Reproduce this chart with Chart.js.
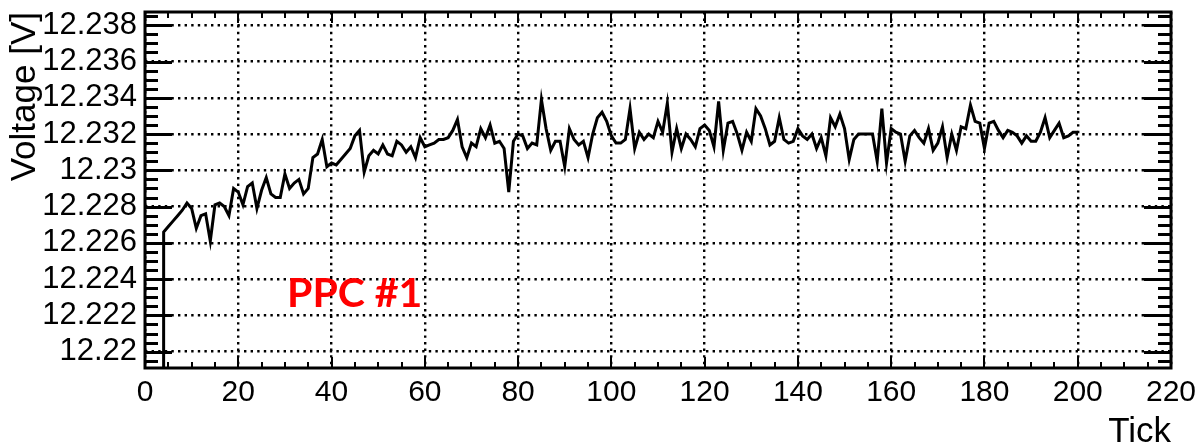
<!DOCTYPE html>
<html>
<head>
<meta charset="utf-8">
<script src="https://cdn.jsdelivr.net/npm/chart.js@4.4.0/dist/chart.umd.min.js"></script>
<style>
  html, body { margin: 0; padding: 0; background: #fff; }
  canvas { display: block; }
</style>
</head>
<body>
<canvas id="chart" width="1204" height="448"></canvas>
<script>
// first sample is at tick 3 (reads 0 V, far below the axis), one sample per tick after that
const firstTick = 3;
const voltage = [
  0,       12.2266, 12.2269, 12.2272, 12.2275, 12.2278, 12.2282, 12.2279, 12.2268, 12.2275, // 3-12
  12.2276, 12.2261, 12.2281, 12.2282, 12.2280, 12.2275, 12.2290, 12.2288, 12.2281, 12.2291, // 13-22
  12.2293, 12.2279, 12.2289, 12.2296, 12.2287, 12.2285, 12.2285, 12.2298, 12.2290, 12.2293, // 23-32
  12.2295, 12.2287, 12.2290, 12.2307, 12.2309, 12.2317, 12.2302, 12.2304, 12.2303, 12.2306, // 33-42
  12.2309, 12.2312, 12.2319, 12.2322, 12.2299, 12.2308, 12.2311, 12.2309, 12.2314, 12.2309, // 43-52
  12.2308, 12.2316, 12.2314, 12.2310, 12.2313, 12.2307, 12.2318, 12.2313, 12.2314, 12.2315, // 53-62
  12.2317, 12.2317, 12.2318, 12.2322, 12.2328, 12.2313, 12.2307, 12.2315, 12.2313, 12.2323, // 63-72
  12.2318, 12.2325, 12.2315, 12.2316, 12.2312, 12.2288, 12.2316, 12.2320, 12.2319, 12.2312, // 73-82
  12.2315, 12.2314, 12.2339, 12.2323, 12.2311, 12.2316, 12.2316, 12.2302, 12.2323, 12.2317, // 83-92
  12.2314, 12.2316, 12.2307, 12.2320, 12.2329, 12.2332, 12.2327, 12.2319, 12.2315, 12.2315, // 93-102
  12.2317, 12.2334, 12.2312, 12.2321, 12.2317, 12.2320, 12.2318, 12.2327, 12.2321, 12.2337, // 103-112
  12.2310, 12.2323, 12.2312, 12.2320, 12.2317, 12.2313, 12.2323, 12.2325, 12.2322, 12.2313, // 113-122
  12.2338, 12.2311, 12.2326, 12.2327, 12.2320, 12.2311, 12.2321, 12.2316, 12.2334, 12.2330, // 123-132
  12.2323, 12.2314, 12.2316, 12.2329, 12.2317, 12.2315, 12.2316, 12.2323, 12.2319, 12.2317, // 133-142
  12.2320, 12.2312, 12.2318, 12.2308, 12.2329, 12.2324, 12.2331, 12.2323, 12.2306, 12.2317, // 143-152
  12.2320, 12.2320, 12.2320, 12.2320, 12.2305, 12.2334, 12.2304, 12.2323, 12.2321, 12.2320, // 153-162
  12.2305, 12.2319, 12.2322, 12.2318, 12.2315, 12.2323, 12.2311, 12.2315, 12.2324, 12.2307, // 163-172
  12.2320, 12.2311, 12.2324, 12.2323, 12.2336, 12.2327, 12.2326, 12.2312, 12.2326, 12.2327, // 173-182
  12.2322, 12.2318, 12.2322, 12.2321, 12.2319, 12.2315, 12.2319, 12.2316, 12.2316, 12.2321, // 183-192
  12.2329, 12.2318, 12.2322, 12.2326, 12.2318, 12.2319, 12.2321, 12.2321                    // 193-200
];

const xTickValues = [0, 20, 40, 60, 80, 100, 120, 140, 160, 180, 200, 220];
const xTickLabels = ['0', '20', '40', '60', '80', '100', '120', '140', '160', '180', '200', '220'];
const yTickValues = [12.220, 12.222, 12.224, 12.226, 12.228, 12.230, 12.232, 12.234, 12.236, 12.238];
const yTickLabels = ['12.22', '12.222', '12.224', '12.226', '12.228', '12.23', '12.232', '12.234', '12.236', '12.238'];
const xTitle = 'Tick';
const yTitle = 'Voltage [V]';
const tagText = 'PPC #1';

const points = voltage.map((v, i) => ({x: firstTick + i, y: v}));

// ROOT style frame with inward ticks on all four sides + the red tag
const rootFrame = {
  id: 'rootFrame',
  afterDatasetsDraw(chart) {
    const {ctx, chartArea: a, scales} = chart;
    const x = scales.x, y = scales.y;
    ctx.save();
    ctx.strokeStyle = '#000';
    ctx.lineCap = 'butt';

    // y ticks: minor every 0.0005, major every 0.002
    ctx.lineWidth = 3;
    const k0 = Math.ceil(y.min / 0.0005 - 1e-6), k1 = Math.floor(y.max / 0.0005 + 1e-6);
    for (let k = k0; k <= k1; k++) {
      const py = Math.round(y.getPixelForValue(k * 0.0005)) + 0.5;
      const len = (k % 4 === 0) ? 27 : 13;
      ctx.beginPath();
      ctx.moveTo(a.left, py); ctx.lineTo(a.left + len, py);
      ctx.moveTo(a.right, py); ctx.lineTo(a.right - len, py);
      ctx.stroke();
    }

    // x ticks: minor every 5, major every 20
    ctx.lineWidth = 2;
    for (let k = 0; k * 5 <= x.max; k++) {
      const px = Math.round(x.getPixelForValue(k * 5));
      const len = (k % 4 === 0) ? 11 : 6;
      ctx.beginPath();
      ctx.moveTo(px, a.bottom); ctx.lineTo(px, a.bottom - len);
      ctx.moveTo(px, a.top); ctx.lineTo(px, a.top + len);
      ctx.stroke();
    }

    ctx.lineWidth = 3;
    ctx.strokeRect(a.left, a.top, a.right - a.left, a.bottom - a.top);

    ctx.fillStyle = '#ff0000';
    ctx.font = 'bold 41px Lato, "Open Sans", sans-serif';
    ctx.textBaseline = 'alphabetic';
    ctx.textAlign = 'left';
    ctx.fillText(tagText, 287, 307);
    ctx.restore();
  }
};

function draw() {
  new Chart(document.getElementById('chart'), {
    type: 'line',
    data: {
      datasets: [{
        data: points,
        borderColor: '#000',
        borderWidth: 3,
        pointRadius: 0,
        tension: 0,
        fill: false
      }]
    },
    options: {
      responsive: false,
      animation: false,
      devicePixelRatio: 1,
      layout: {padding: {top: 12, right: 33, left: 0, bottom: 0}},
      plugins: {legend: {display: false}, tooltip: {enabled: false}},
      scales: {
        x: {
          type: 'linear',
          min: 0,
          max: 220,
          afterBuildTicks: s => { s.ticks = xTickValues.map(v => ({value: v})); },
          afterFit: s => { s.height = 80; s.paddingLeft = 0; s.paddingRight = 0; },
          ticks: {
            callback: (v, i) => xTickLabels[i],
            color: '#000',
            padding: 7,
            maxRotation: 0,
            autoSkip: false,
            font: {family: '"Liberation Sans", Arial, sans-serif', size: 30}
          },
          grid: {color: '#000', lineWidth: 2.4, drawTicks: false},
          border: {display: false, dash: [2.4, 4.2]},
          title: {
            display: true,
            text: xTitle,
            align: 'end',
            color: '#000',
            padding: 0,
            font: {family: '"Liberation Sans", Arial, sans-serif', size: 35, lineHeight: 0.9}
          }
        },
        y: {
          type: 'linear',
          min: 12.2191,
          max: 12.23873,
          afterBuildTicks: s => { s.ticks = yTickValues.map(v => ({value: v})); },
          afterFit: s => { s.width = 145; s.paddingTop = 0; s.paddingBottom = 0; },
          ticks: {
            callback: (v, i) => yTickLabels[i],
            color: '#000',
            padding: 8,
            autoSkip: false,
            font: {family: '"Liberation Sans", Arial, sans-serif', size: 31}
          },
          grid: {color: '#000', lineWidth: 2.4, drawTicks: false},
          border: {display: false, dash: [2.4, 4.2]},
          title: {
            display: true,
            text: yTitle,
            align: 'end',
            color: '#000',
            padding: {top: 4, bottom: 0},
            font: {family: '"Liberation Sans", Arial, sans-serif', size: 35, lineHeight: 1.2}
          }
        }
      }
    },
    plugins: [rootFrame]
  });
}

Promise.all([
  document.fonts.load('bold 41px Lato'),
  document.fonts.load('30px "Liberation Sans"')
]).then(draw, draw);
</script>
</body>
</html>
